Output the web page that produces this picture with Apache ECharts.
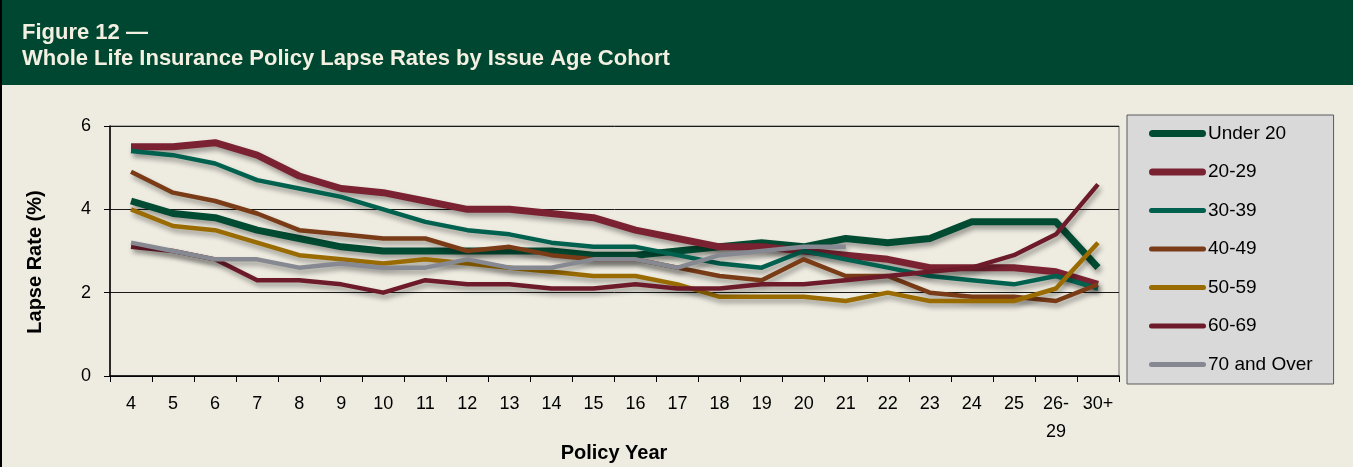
<!DOCTYPE html>
<html>
<head>
<meta charset="utf-8">
<script src="https://cdn.jsdelivr.net/npm/echarts@6/dist/echarts.min.js"></script>
<style>
  html, body { margin: 0; padding: 0; background: #eeece1; }
  #main { width: 1353px; height: 467px; }
</style>
</head>
<body>
<div id="main"></div>
<script>
// policy years on the x axis
const years = ['4','5','6','7','8','9','10','11','12','13','14','15','16','17','18','19','20','21','22','23','24','25','26-29','30+'];
const yTicks = [0, 2, 4, 6];

// lapse rates (%) per issue age cohort
const under20 = [4.2,3.9,3.8,3.5,3.3,3.1,3.0,3.0,3.0,3.0,3.0,2.9,2.9,3.0,3.1,3.2,3.1,3.3,3.2,3.3,3.7,3.7,3.7,2.6];
const age20_29 = [5.5,5.5,5.6,5.3,4.8,4.5,4.4,4.2,4.0,4.0,3.9,3.8,3.5,3.3,3.1,3.1,3.0,2.9,2.8,2.6,2.6,2.6,2.5,2.2];
const age30_39 = [5.4,5.3,5.1,4.7,4.5,4.3,4.0,3.7,3.5,3.4,3.2,3.1,3.1,2.9,2.7,2.6,3.0,2.8,2.6,2.4,2.3,2.2,2.4,2.1];
const age40_49 = [4.9,4.4,4.2,3.9,3.5,3.4,3.3,3.3,3.0,3.1,2.9,2.8,2.8,2.6,2.4,2.3,2.8,2.4,2.4,2.0,1.9,1.9,1.8,2.2];
const age50_59 = [4.0,3.6,3.5,3.2,2.9,2.8,2.7,2.8,2.7,2.6,2.5,2.4,2.4,2.2,1.9,1.9,1.9,1.8,2.0,1.8,1.8,1.8,2.1,3.2];
const age60_69 = [3.1,3.0,2.8,2.3,2.3,2.2,2.0,2.3,2.2,2.2,2.1,2.1,2.2,2.1,2.1,2.2,2.2,2.3,2.4,2.5,2.6,2.9,3.4,4.6];
const age70up = [3.2,3.0,2.8,2.8,2.6,2.7,2.6,2.6,2.8,2.6,2.6,2.8,2.8,2.6,2.9,3.0,3.1,3.1,null,null,null,null,null,null];

const FONT = "'Liberation Sans', Arial, sans-serif";

const thickIcon = 'path://M3.5,0L53.5,0Q57,0 57,3.5Q57,7 53.5,7L3.5,7Q0,7 0,3.5Q0,0 3.5,0Z';
const thinIcon = 'path://M2.5,0L54.5,0Q57,0 57,2.5Q57,5 54.5,5L2.5,5Q0,5 0,2.5Q0,0 2.5,0Z';

function makeSeries(name, data, color, width) {
    return {
        name: name,
        type: 'line',
        data: data,
        symbol: 'none',
        connectNulls: false,
        itemStyle: { color: color },
        lineStyle: {
            color: color,
            width: width,
            join: 'round',
            shadowColor: 'rgba(0,0,0,0.35)',
            shadowBlur: 5,
            shadowOffsetX: 2,
            shadowOffsetY: 4
        }
    };
}

const option = {
    backgroundColor: '#eeece1',
    animation: false,
    title: {
        text: 'Figure 12 \u2014\nWhole Life Insurance Policy Lapse Rates by Issue Age Cohort',
        left: 17,
        top: 15,
        textStyle: {
            color: '#f3f0e2',
            fontFamily: FONT,
            fontSize: 22,
            fontWeight: 'bold',
            lineHeight: 26
        }
    },
    graphic: [
        { type: 'rect', z: -1, shape: { x: 0, y: 0, width: 1353, height: 85 }, style: { fill: '#004731' } },
        { type: 'rect', z: 10, shape: { x: 0, y: 0, width: 2, height: 467 }, style: { fill: '#000' } },
        {
            type: 'text', x: 35, y: 262, rotation: Math.PI / 2,
            style: { text: 'Lapse Rate (%)', fill: '#000', font: 'bold 20px ' + FONT, textAlign: 'center', textVerticalAlign: 'middle' }
        },
        {
            type: 'text', x: 614, y: 453,
            style: { text: 'Policy Year', fill: '#000', font: 'bold 20px ' + FONT, textAlign: 'center', textVerticalAlign: 'middle' }
        }
    ],
    legend: {
        orient: 'vertical',
        left: 1127,
        top: 115,
        padding: [9, 21, 10, 22],
        itemWidth: 57,
        itemHeight: 20,
        itemGap: 19.5,
        backgroundColor: '#d9d9d9',
        borderColor: '#5a5a5a',
        borderWidth: 1,
        textStyle: { fontFamily: FONT, fontSize: 19, color: '#000', padding: [0, 0, 0, -3] },
        data: [
            { name: 'Under 20', icon: thickIcon },
            { name: '20-29', icon: thickIcon },
            { name: '30-39', icon: thinIcon },
            { name: '40-49', icon: thinIcon },
            { name: '50-59', icon: thinIcon },
            { name: '60-69', icon: thinIcon },
            { name: '70 and Over', icon: thinIcon }
        ]
    },
    grid: {
        left: 110,
        right: 234,
        top: 126,
        bottom: 91,
        show: true,
        borderColor: '#6e6e6e',
        borderWidth: 1,
        backgroundColor: 'transparent'
    },
    xAxis: {
        type: 'category',
        data: years,
        boundaryGap: true,
        axisLine: { lineStyle: { color: '#000', width: 1.5 } },
        axisTick: { show: true, length: 6, lineStyle: { color: '#000' } },
        axisLabel: {
            color: '#000',
            fontFamily: FONT,
            fontSize: 18,
            lineHeight: 28,
            margin: 14,
            interval: 0,
            formatter: function (v) { return v.replace('-', '-\n'); }
        }
    },
    yAxis: {
        type: 'value',
        min: yTicks[0],
        max: yTicks[yTicks.length - 1],
        interval: 2,
        axisLine: { show: true, lineStyle: { color: '#000', width: 1.5 } },
        axisTick: { show: true, length: 6, lineStyle: { color: '#000' } },
        axisLabel: { color: '#000', fontFamily: FONT, fontSize: 18, margin: 19 },
        splitLine: { lineStyle: { color: '#1a1a1a', width: 1 } }
    },
    series: [
        makeSeries('Under 20', under20, '#004b32', 7),
        makeSeries('20-29', age20_29, '#7b2232', 7),
        makeSeries('30-39', age30_39, '#00614f', 4.5),
        makeSeries('40-49', age40_49, '#7a3b17', 4.5),
        makeSeries('50-59', age50_59, '#9a6b00', 4.5),
        makeSeries('60-69', age60_69, '#6d1b2b', 4.5),
        makeSeries('70 and Over', age70up, '#868892', 4.5)
    ]
};

const myChart = echarts.init(document.getElementById('main'));
myChart.setOption(option);
</script>
</body>
</html>
